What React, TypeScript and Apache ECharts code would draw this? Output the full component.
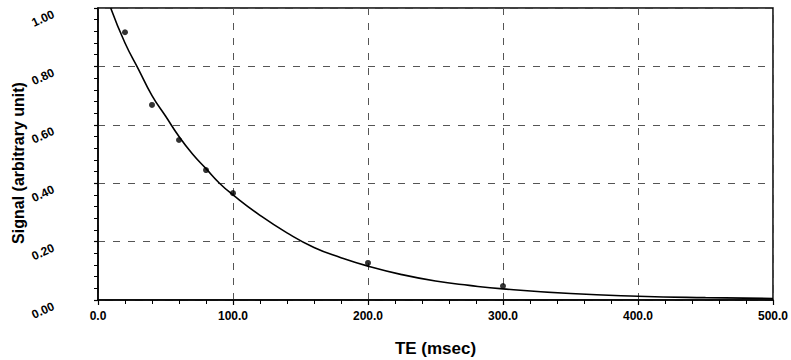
import React, { useEffect, useRef } from "react";
import * as echarts from "echarts";

// Measured data points (TE in msec, signal in arbitrary units)
const measuredTE = [20, 40, 60, 80, 100, 200, 300];
const measuredSignal = [0.917, 0.668, 0.548, 0.445, 0.366, 0.127, 0.048];

// Fitted curve
const fitTE = [9.4, 20, 30, 40, 50, 60, 70, 80, 90, 100, 120, 140, 160, 180, 200, 225, 250, 275, 300, 350, 400, 450, 500];
const fitSignal = [1.0, 0.88, 0.79, 0.70, 0.63, 0.56, 0.50, 0.45, 0.40, 0.36, 0.29, 0.23, 0.18, 0.145, 0.116, 0.087, 0.065, 0.05, 0.038, 0.022, 0.013, 0.008, 0.005];

const xTicks = [0, 100, 200, 300, 400, 500];
const yTicks = [0, 0.2, 0.4, 0.6, 0.8, 1.0];

const FONT = "'Liberation Sans', Arial, sans-serif";

export default function App() {
  const ref = useRef<HTMLDivElement>(null);
  useEffect(() => {
    if (!ref.current) return;
    const chart = echarts.init(ref.current, undefined, { renderer: "svg" });
    const gridLine = { show: true, lineStyle: { color: "#555", width: 1, type: [7, 8] as any } };
    chart.setOption({
      animation: false,
      backgroundColor: "#fff",
      grid: {
        left: 98,
        top: 8,
        right: 18,
        bottom: 60,
        containLabel: false,
        outerBoundsMode: "none",
        show: true,
        borderColor: "#000",
        borderWidth: 1.5,
        backgroundColor: "transparent",
      },
      xAxis: {
        type: "value",
        min: xTicks[0],
        max: xTicks[xTicks.length - 1],
        interval: 100,
        name: "TE (msec)",
        nameLocation: "middle",
        nameGap: 40,
        nameMoveOverlap: false,
        nameTextStyle: { fontFamily: FONT, fontWeight: "bold", fontSize: 17, color: "#000" },
        axisLine: { show: true, lineStyle: { color: "#000", width: 1.5 } },
        axisTick: { show: true, inside: false, length: 5, lineStyle: { color: "#000", width: 1.2 } },
        minorTick: { show: true, splitNumber: 5, length: 4, lineStyle: { color: "#000", width: 1 } },
        axisLabel: {
          margin: 10,
          fontFamily: FONT,
          fontWeight: "bold",
          fontSize: 12,
          color: "#000",
          formatter: (v: number) => v.toFixed(1),
        },
        splitLine: gridLine,
      },
      yAxis: {
        type: "value",
        min: yTicks[0],
        max: yTicks[yTicks.length - 1],
        interval: 0.2,
        name: "Signal (arbitrary unit)",
        nameLocation: "middle",
        nameGap: 72,
        nameMoveOverlap: false,
        nameRotate: 90,
        nameTextStyle: {
          fontFamily: FONT,
          fontWeight: "bold",
          fontSize: 16,
          color: "#000",
          padding: [0, 18, 0, 0],
        },
        axisLine: { show: true, lineStyle: { color: "#000", width: 1.5 } },
        axisTick: { show: true, inside: false, length: 4, lineStyle: { color: "#000", width: 1.2 } },
        minorTick: { show: true, splitNumber: 5, length: 4, lineStyle: { color: "#000", width: 1 } },
        axisLabel: {
          margin: 47,
          rotate: 25,
          verticalAlign: "top",
          fontFamily: FONT,
          fontWeight: "bold",
          fontSize: 12,
          color: "#000",
          formatter: (v: number) => v.toFixed(2),
        },
        splitLine: gridLine,
      },
      series: [
        {
          type: "line",
          data: fitTE.map((t, i) => [t, fitSignal[i]]),
          smooth: true,
          symbol: "none",
          lineStyle: { color: "#000", width: 1.6 },
          clip: true,
          z: 3,
        },
        {
          type: "scatter",
          data: measuredTE.map((t, i) => [t, measuredSignal[i]]),
          symbol: "circle",
          symbolSize: 6,
          itemStyle: { color: "#000" },
          z: 4,
        },
      ],
    });
    return () => chart.dispose();
  }, []);
  return (
    <div
      ref={ref}
      style={{ position: "fixed", left: 0, top: 0, width: 791, height: 360, background: "#fff" }}
    />
  );
}
